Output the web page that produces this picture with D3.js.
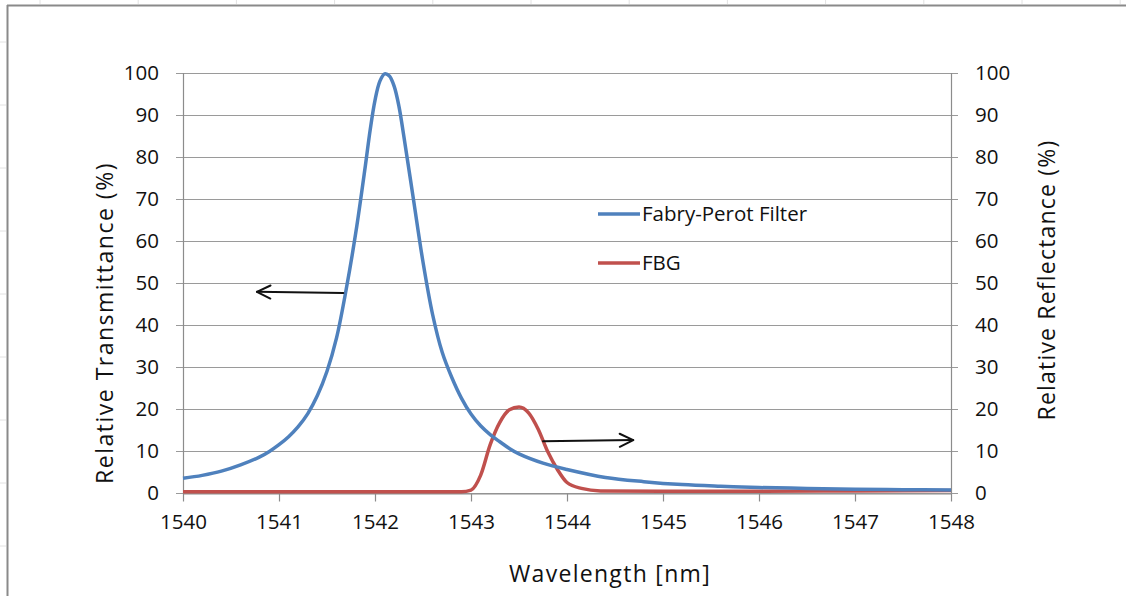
<!DOCTYPE html>
<html>
<head>
<meta charset="utf-8">
<script src="https://cdn.jsdelivr.net/npm/d3@7"></script>
<style>
  html, body { margin: 0; padding: 0; background: #ffffff; }
  svg { display: block; }
  text { font-family: "Open Sans", "Liberation Sans", sans-serif; fill: #111; }
</style>
</head>
<body>
<svg id="chart" width="1126" height="596"></svg>
<script>
// ---------- data ----------
const xTicks = [1540, 1541, 1542, 1543, 1544, 1545, 1546, 1547, 1548];
const yTicks = [0, 10, 20, 30, 40, 50, 60, 70, 80, 90, 100];

const fpWavelength = [1540.0, 1540.2, 1540.4, 1540.6, 1540.8, 1540.9, 1541.0, 1541.1, 1541.2, 1541.3, 1541.4,
  1541.5, 1541.6, 1541.7, 1541.8, 1541.9, 1541.95, 1542.0, 1542.05, 1542.1, 1542.15, 1542.2, 1542.25, 1542.3, 1542.4,
  1542.5, 1542.6, 1542.7, 1542.8, 1542.9, 1543.0, 1543.1, 1543.2, 1543.3, 1543.4,
  1543.5, 1543.75, 1544.0, 1544.4, 1544.8, 1545.2, 1545.6, 1546.0,
  1546.5, 1547.0, 1547.5, 1548.0];
const fpTransmittance = [3.5, 4.2, 5.2, 6.7, 8.6, 9.9, 11.5, 13.4, 15.8, 18.9, 23.2,
  29, 37, 48.5, 62, 78, 86.5, 93.5, 98, 99.8, 99.3, 96.8, 92, 85, 70,
  55, 42.5, 33.5, 27.5, 22.6, 18.8, 16.0, 13.9, 12.2, 10.6,
  9.3, 7.1, 5.6, 3.7, 2.7, 2.0, 1.6, 1.3,
  1.1, 0.9, 0.8, 0.7];

const fbgWavelength = [1540.0, 1541.0, 1542.0, 1542.9, 1543.0, 1543.1, 1543.2, 1543.3, 1543.4, 1543.5,
  1543.6, 1543.7, 1543.8, 1543.9, 1544.0, 1544.15, 1544.35, 1545.0, 1546.0, 1547.0, 1548.0];
const fbgReflectance = [0.3, 0.3, 0.3, 0.3, 0.7, 4.2, 11.5, 16.8, 19.8, 20.5,
  19.1, 15.2, 9.8, 5.6, 2.5, 1.1, 0.5, 0.4, 0.4, 0.5, 0.6];

const seriesNames = ["Fabry-Perot Filter", "FBG"];
const seriesColors = ["#4f81bd", "#c0504d"];

// annotation arrows in data units: [fromX, fromY, toX, toY]
const arrowLeft = [1541.67, 47.6, 1540.77, 47.9];
const arrowRight = [1543.75, 12.3, 1544.69, 12.6];

// ---------- layout ----------
const svg = d3.select("#chart");
const pLeft = 183, pRight = 951, pTop = 73, pBottom = 493;

const x = d3.scaleLinear().domain([1540, 1548]).range([pLeft, pRight]);
const yL = d3.scaleLinear().domain([0, 100]).range([pBottom, pTop]);
const yR = d3.scaleLinear().domain([0, 100]).range([pBottom, pTop]);

// faint spreadsheet cell grid outside chart frame
const bg = svg.append("g");
d3.range(40, 1126, 98.2).forEach(v => {
  bg.append("line").attr("x1", v).attr("x2", v).attr("y1", 0).attr("y2", 4)
    .attr("stroke", "#e2e2e2").attr("stroke-width", 1);
});
d3.range(42, 596, 63).forEach(v => {
  bg.append("line").attr("x1", 0).attr("x2", 6).attr("y1", v).attr("y2", v)
    .attr("stroke", "#e2e2e2").attr("stroke-width", 1);
});

// chart frame (top and left edges visible)
svg.append("line").attr("x1", 7).attr("x2", 1126).attr("y1", 5.5).attr("y2", 5.5)
  .attr("stroke", "#8a8a8a").attr("stroke-width", 2);
svg.append("line").attr("x1", 7.5).attr("x2", 7.5).attr("y1", 5).attr("y2", 596)
  .attr("stroke", "#8a8a8a").attr("stroke-width", 2);

// gridlines (with left/right tick extensions)
const grid = svg.append("g");
yTicks.forEach(t => {
  grid.append("line")
    .attr("x1", pLeft - 7).attr("x2", pRight + 7)
    .attr("y1", Math.round(yL(t)) + 0.5).attr("y2", Math.round(yL(t)) + 0.5)
    .attr("stroke", "#9a9a9a").attr("stroke-width", 1.2);
});

// axis lines
svg.append("line").attr("x1", pLeft + 0.5).attr("x2", pLeft + 0.5).attr("y1", pTop).attr("y2", pBottom)
  .attr("stroke", "#8c8c8c").attr("stroke-width", 1.2);
svg.append("line").attr("x1", pRight + 0.5).attr("x2", pRight + 0.5).attr("y1", pTop).attr("y2", pBottom)
  .attr("stroke", "#8c8c8c").attr("stroke-width", 1.2);

// x-axis via d3 axis
const xAxis = d3.axisBottom(x).tickValues(xTicks).tickFormat(d3.format("d"))
  .tickSizeInner(8).tickSizeOuter(0).tickPadding(13);
const gx = svg.append("g").attr("transform", `translate(0,${pBottom + 0.5})`).call(xAxis);
gx.select(".domain").attr("stroke", "#8c8c8c").attr("stroke-width", 1.2);
gx.selectAll(".tick line").attr("stroke", "#8c8c8c").attr("stroke-width", 1.2);
gx.selectAll(".tick text").attr("font-size", 20.5).attr("font-family", "Open Sans").attr("fill", "#111");

// left y labels
const yAxisL = d3.axisLeft(yL).tickValues(yTicks).tickSize(0).tickPadding(24);
const gyl = svg.append("g").attr("transform", `translate(${pLeft},0)`).call(yAxisL);
gyl.select(".domain").remove();
gyl.selectAll(".tick text").attr("font-size", 20.5).attr("font-family", "Open Sans").attr("fill", "#111");

// right y labels
const yAxisR = d3.axisRight(yR).tickValues(yTicks).tickSize(0).tickPadding(24);
const gyr = svg.append("g").attr("transform", `translate(${pRight},0)`).call(yAxisR);
gyr.select(".domain").remove();
gyr.selectAll(".tick text").attr("font-size", 20.5).attr("font-family", "Open Sans").attr("fill", "#111");

// axis titles
svg.append("text").attr("x", 610).attr("y", 582).attr("text-anchor", "middle")
  .attr("font-size", 23).attr("letter-spacing", 1.3).text("Wavelength [nm]");
svg.append("text").attr("transform", "translate(113,323) rotate(-90)").attr("text-anchor", "middle")
  .attr("font-size", 23).attr("letter-spacing", 1.5).text("Relative Transmittance (%)");
svg.append("text").attr("transform", "translate(1055,280) rotate(-90)").attr("text-anchor", "middle")
  .attr("font-size", 23).attr("letter-spacing", 1.2).text("Relative Reflectance (%)");

// series lines
const lineL = d3.line().x(d => x(d[0])).y(d => yL(d[1])).curve(d3.curveCatmullRom.alpha(0.5));
const lineR = d3.line().x(d => x(d[0])).y(d => yR(d[1])).curve(d3.curveMonotoneX);

svg.append("path").datum(d3.zip(fbgWavelength, fbgReflectance))
  .attr("d", lineR).attr("fill", "none").attr("stroke", seriesColors[1])
  .attr("stroke-width", 3.5).attr("stroke-linejoin", "round");
svg.append("path").datum(d3.zip(fpWavelength, fpTransmittance))
  .attr("d", lineL).attr("fill", "none").attr("stroke", seriesColors[0])
  .attr("stroke-width", 3.5).attr("stroke-linejoin", "round");

// arrows
function drawArrow(a, yS) {
  const x1 = x(a[0]), y1 = yS(a[1]), x2 = x(a[2]), y2 = yS(a[3]);
  const ang = Math.atan2(y2 - y1, x2 - x1);
  const L = 15, W = 0.45;
  const g = svg.append("g").attr("stroke", "#111").attr("stroke-width", 2).attr("fill", "none")
    .attr("stroke-linecap", "round").attr("stroke-linejoin", "round");
  g.append("line").attr("x1", x1).attr("y1", y1).attr("x2", x2).attr("y2", y2);
  g.append("path").attr("d",
    `M${x2 - L * Math.cos(ang - W)},${y2 - L * Math.sin(ang - W)} L${x2},${y2} L${x2 - L * Math.cos(ang + W)},${y2 - L * Math.sin(ang + W)}`);
}
drawArrow(arrowLeft, yL);
drawArrow(arrowRight, yR);

// legend
const legendX = 598, legendY = [214, 263];
seriesNames.forEach((name, i) => {
  svg.append("line").attr("x1", legendX).attr("x2", legendX + 42)
    .attr("y1", legendY[i]).attr("y2", legendY[i])
    .attr("stroke", seriesColors[i]).attr("stroke-width", 3.5);
  svg.append("text").attr("x", legendX + 44).attr("y", legendY[i] + 7)
    .attr("font-size", 20.5).text(name);
});
</script>
</body>
</html>
